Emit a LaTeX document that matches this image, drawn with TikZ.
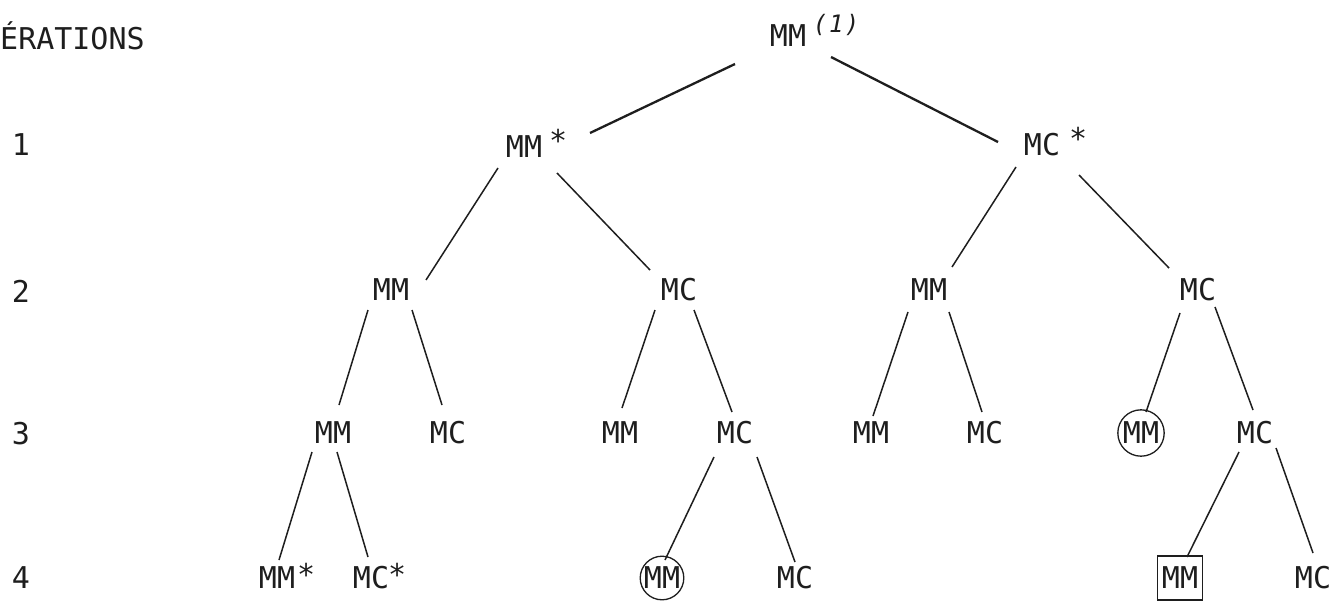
\documentclass[tikz,border=0pt]{standalone}
\usepackage{fontspec}
\newfontfamily\tw{DejaVu Sans Mono}
\usetikzlibrary{calc}
\definecolor{ink}{HTML}{1E1E1E}
\tikzset{
  t/.style={font=\tw\fontsize{30}{32}\selectfont, text=ink, inner sep=0pt},
  circ/.style={t, draw=ink, circle, line width=1.3pt, inner sep=1.5pt},
  boxed/.style={t, draw=ink, rectangle, line width=1.3pt, minimum width=45pt, minimum height=44pt},
  ast/.style={font=\tw\fontsize{30}{32}\selectfont, text=ink, inner sep=0pt, anchor=base},
  sup/.style={font=\tw\itshape\fontsize{24}{26}\selectfont, text=ink, inner sep=0pt, anchor=base},
  e/.style={draw=ink, line width=1.5pt},
  eb/.style={draw=ink, line width=2.3pt},
}
\begin{document}
\begin{tikzpicture}[x=1pt,y=-1pt]
\useasboundingbox[fill=white] (0,0) rectangle (1343,602);
% generation labels
\node[t, anchor=west] (gen) at (0,36) {ÉRATIONS};
\node[t] (g1) at (21,145) {1};
\node[t] (g2) at (21,291) {2};
\node[t] (g3) at (21,434) {3};
\node[t] (g4) at (21,578) {4};
% level 0
\node[t, label={[sup, xshift=30pt, yshift=3pt]east:(\kern1.5pt1\kern1.5pt)}] (R) at (788,36) {MM};
% level 1
\node[t, label={[ast, xshift=16pt, yshift=-4pt]east:*}] (A) at (524,147) {MM};
\node[t, label={[ast, xshift=18pt, yshift=-4pt]east:*}] (B) at (1042,145) {MC};
% level 2
\node[t] (C) at (391,290) {MM};
\node[t] (D) at (679,290) {MC};
\node[t] (E) at (929,290) {MM};
\node[t] (F) at (1198,290) {MC};
% level 3
\node[t] (G) at (333,433) {MM};
\node[t] (H) at (448,433) {MC};
\node[t] (I) at (620,433) {MM};
\node[t] (J) at (735,433) {MC};
\node[t] (K) at (871,433) {MM};
\node[t] (L) at (985,433) {MC};
\node[circ] (M) at (1141,433) {MM};
\node[t] (N) at (1255,433) {MC};
% level 4
\node[t, label={[ast, xshift=11pt, yshift=-7pt]east:*}] (O) at (277,578) {MM};
\node[t, label={[ast, xshift=8pt, yshift=-7pt]east:*}] (P) at (371,578) {MC};
\node[circ, inner sep=0.5pt] (Q) at (662,578) {MM};
\node[t] (S) at (795,578) {MC};
\node[boxed] (T) at (1180,578) {MM};
\node[t] (U) at (1313,578) {MC};
% edges
\draw[eb] ($(R)+(-53,28)$) -- ($(A)+(66,-14)$);
\draw[eb] ($(R)+(43,21)$) -- ($(B)+(-44,-3)$);
\draw[e] ($(A)+(-26,21)$) -- ($(C)+(35,-10)$);
\draw[e] ($(A)+(33,26)$) -- ($(D)+(-29,-20)$);
\draw[e] ($(B)+(-26,22)$) -- ($(E)+(23,-23)$);
\draw[e] ($(B)+(37,30)$) -- ($(F)+(-29,-22)$);
\draw[e] ($(C)+(-23,20)$) -- ($(G)+(6,-28)$);
\draw[e] ($(C)+(21,20)$) -- ($(H)+(-6,-28)$);
\draw[e] ($(D)+(-24,20)$) -- ($(I)+(2,-25)$);
\draw[e] ($(D)+(15,20)$) -- ($(J)+(-3,-21)$);
\draw[e] ($(E)+(-21,22)$) -- ($(K)+(2,-17)$);
\draw[e] ($(E)+(20,22)$) -- ($(L)+(-3,-21)$);
\draw[e] ($(F)+(-18,23)$) -- ($(M)+(5,-21)$);
\draw[e] ($(F)+(17,17)$) -- ($(N)+(-2,-23)$);
\draw[e] ($(G)+(-21,19)$) -- ($(O)+(2,-18)$);
\draw[e] ($(G)+(4,19)$) -- ($(P)+(-3,-21)$);
\draw[e] ($(J)+(-21,24)$) -- ($(Q)+(3,-18)$);
\draw[e] ($(J)+(22,24)$) -- ($(S)+(0,-16)$);
\draw[e] ($(N)+(-16,19)$) -- ($(T)+(7,-21)$);
\draw[e] ($(N)+(21,15)$) -- ($(U)+(0,-25)$);
\end{tikzpicture}
\end{document}
